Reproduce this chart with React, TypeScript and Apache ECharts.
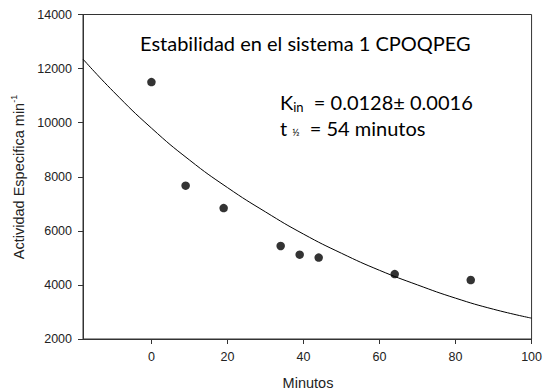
import React, { useEffect, useRef } from "react";
import * as echarts from "echarts";

const pointMinutes = [0, 9, 19, 34, 39, 44, 64, 84];
const pointActivity = [11500, 7670, 6840, 5440, 5120, 5010, 4400, 4180];

const curveMinutes = [-18, -10, 0, 10, 20, 30, 40, 50, 60, 70, 80, 90, 100];
const curveActivity = [12350, 11150, 9800, 8620, 7600, 6700, 5880, 5170, 4540, 4000, 3510, 3100, 2770];

const xTicks = [0, 20, 40, 60, 80, 100];

export default function App() {
  const ref = useRef<HTMLDivElement>(null);
  useEffect(() => {
    if (!ref.current) return;
    const chart = echarts.init(ref.current, null, { renderer: "svg" });
    const arial = "Liberation Sans, Arial, sans-serif";
    const axisFont = { fontFamily: arial, fontSize: 12.5, color: "#222" };
    const noteFont = "Lato, 'Open Sans', sans-serif";
    chart.setOption({
      animation: false,
      backgroundColor: "#fff",
      grid: {
        left: 83,
        right: 12.5,
        top: 14.5,
        bottom: 53,
        show: true,
        borderColor: "#333",
        borderWidth: 1,
      },
      xAxis: {
        type: "value",
        min: -18,
        max: 100,
        axisLine: { show: true, onZero: false, lineStyle: { color: "#333", width: 1 } },
        axisTick: { show: true, length: 5, customValues: xTicks, lineStyle: { color: "#333" } },
        axisLabel: { ...axisFont, margin: 11, customValues: xTicks, formatter: (v: number) => String(v) },
        splitLine: { show: false },
      },
      yAxis: {
        type: "value",
        min: 2000,
        max: 14000,
        interval: 2000,
        axisLine: { show: true, onZero: false, lineStyle: { color: "#333", width: 1 } },
        axisTick: { show: true, length: 5, lineStyle: { color: "#333" } },
        axisLabel: { ...axisFont, margin: 11, formatter: (v: number) => String(v) },
        splitLine: { show: false },
      },
      series: [
        {
          type: "line",
          data: curveMinutes.map((m, i) => [m, curveActivity[i]]),
          smooth: true,
          showSymbol: false,
          lineStyle: { color: "#000", width: 1 },
          silent: true,
        },
        {
          type: "scatter",
          data: pointMinutes.map((m, i) => [m, pointActivity[i]]),
          symbol: "circle",
          symbolSize: 8.5,
          itemStyle: { color: "#000" },
        },
      ],
      graphic: [
        {
          type: "text",
          left: 140,
          top: 33,
          style: {
            text: "Estabilidad en el sistema 1 CPOQPEG",
            font: `20px ${noteFont}`,
            fill: "#000",
          },
        },
        {
          type: "text",
          left: 280,
          top: 92,
          style: {
            text: "{m|K}{s|in}{m|  = 0.0128\u00b1 0.0016}",
            fill: "#000",
            rich: {
              m: { fontFamily: noteFont, fontSize: 20, fill: "#000" },
              s: { fontFamily: noteFont, fontSize: 13, fill: "#000", padding: [10, 0, 0, 0] },
            },
          },
        },
        {
          type: "text",
          left: 280,
          top: 118,
          style: {
            text: "{m|t }{s|\u00bd}{m|  = 54 minutos}",
            fill: "#000",
            rich: {
              m: { fontFamily: noteFont, fontSize: 20, fill: "#000" },
              s: { fontFamily: noteFont, fontSize: 10, fill: "#000", padding: [8, 0, 0, 0] },
            },
          },
        },
        {
          type: "text",
          x: 18.5,
          y: 177,
          rotation: Math.PI / 2,
          style: {
            text: "{m|Actividad Especifica min}{s|-1}",
            align: "center",
            verticalAlign: "middle",
            rich: {
              m: { fontFamily: arial, fontSize: 14.5, fill: "#222" },
              s: { fontFamily: arial, fontSize: 9, fill: "#222", padding: [0, 0, 9, 0] },
            },
          },
        },
        {
          type: "text",
          x: 308,
          y: 383,
          style: {
            text: "Minutos",
            align: "center",
            verticalAlign: "middle",
            font: `14.5px ${arial}`,
            fill: "#222",
          },
        },
      ],
    });
    return () => chart.dispose();
  }, []);
  return <div ref={ref} style={{ width: 545, height: 392, position: "absolute", left: 0, top: 0 }} />;
}
